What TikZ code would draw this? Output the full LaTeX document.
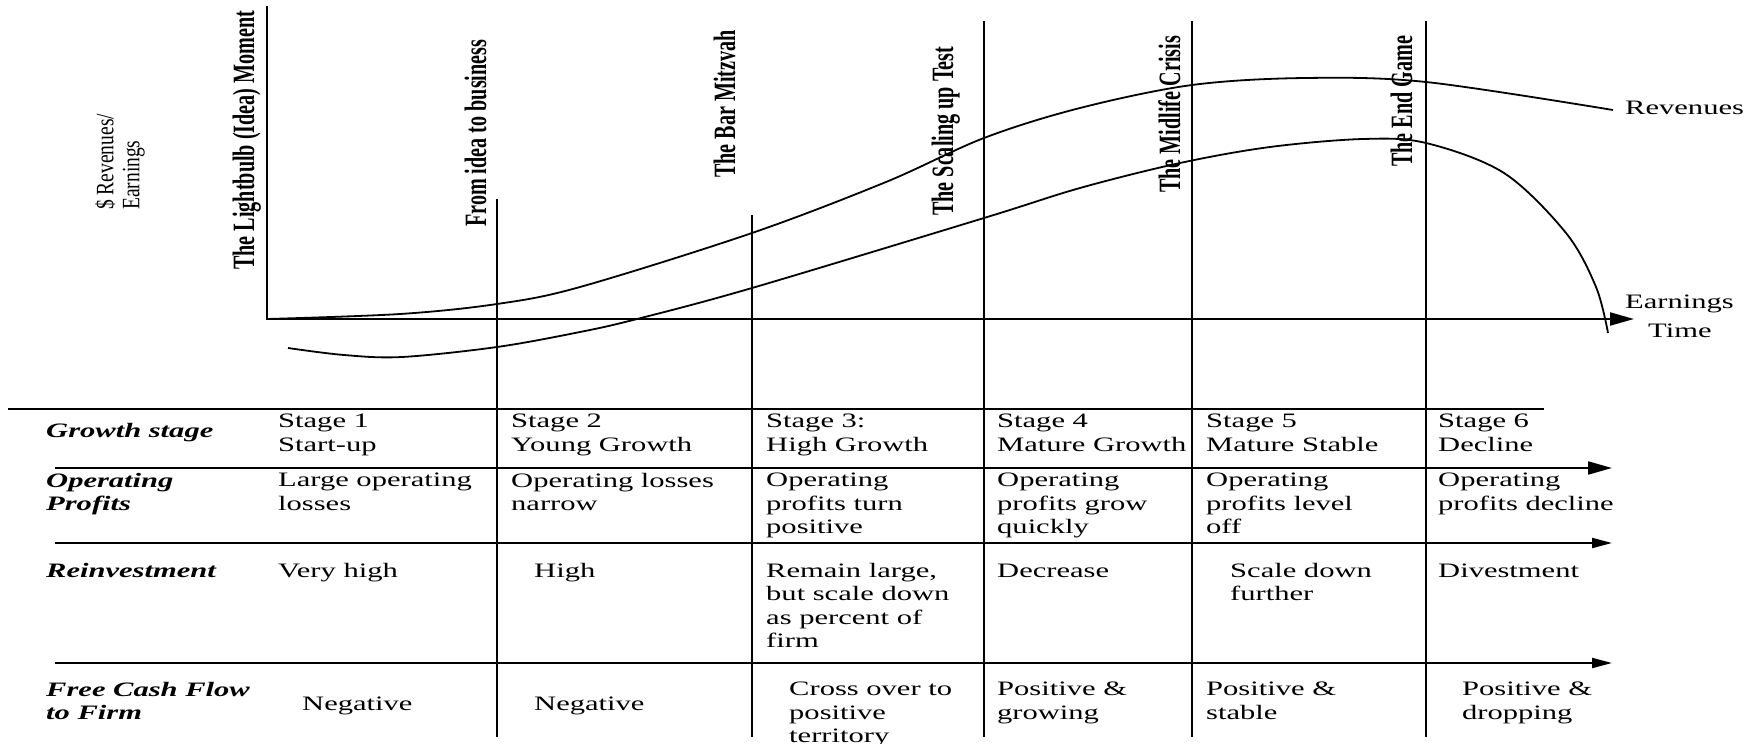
\documentclass[tikz,border=0pt]{standalone}
\usepackage{fontspec}
\setmainfont{Liberation Serif}
\newfontfamily\tabfamily[FakeStretch=1.49]{Liberation Serif}
\newfontfamily\mstfamily[FakeStretch=0.65]{Liberation Serif}
\newfontfamily\axfamily[FakeStretch=0.78]{Liberation Serif}
\usetikzlibrary{arrows.meta}

\begin{document}
\begin{tikzpicture}[x=1pt,y=-1pt,
  rule/.style={line width=2pt},
  bigarrow/.style={rule,-{Triangle[length=24pt,width=13pt]}},
  smallarrow/.style={rule,-{Triangle[length=20pt,width=10pt]}},
  curve/.style={line width=1.8pt},
  cell/.style={font=\tabfamily\fontsize{20.5}{23.3}\selectfont, anchor=north west, inner sep=0pt, align=left},
  cellbase/.style={font=\tabfamily\fontsize{20.5}{23.3}\selectfont, anchor=base west, inner sep=0pt},
  rowhead/.style={cell, font=\tabfamily\fontsize{20.5}{23.3}\selectfont\bfseries\itshape},
  rowheadbase/.style={cellbase, font=\tabfamily\fontsize{20.5}{23.3}\selectfont\bfseries\itshape},
  milestone/.style={font=\mstfamily\fontsize{31}{34}\selectfont\bfseries, rotate=90, anchor=base west, inner sep=0pt},
  axistitle/.style={font=\axfamily\fontsize{25}{26}\selectfont, rotate=90, anchor=north west, inner sep=0pt, align=left}
]
\useasboundingbox[fill=white] (0,0) rectangle (1756,744);

% ---------- chart axes ----------
\coordinate (ytop) at (267,6);
\coordinate (origin) at (267,319);
\coordinate (xend) at (1634,319);
\draw[bigarrow] (ytop) -- (origin) -- (xend);

% ---------- stage boundaries ----------
\coordinate (b1t) at (497,199);  \coordinate (b1b) at (497,737);
\coordinate (b2t) at (752,215);  \coordinate (b2b) at (752,737);
\coordinate (b3t) at (984,21);   \coordinate (b3b) at (984,737);
\coordinate (b4t) at (1192,21);  \coordinate (b4b) at (1192,737);
\coordinate (b5t) at (1426,21);  \coordinate (b5b) at (1426,737);
\foreach \b in {b1,b2,b3,b4,b5} \draw[rule] (\b t) -- (\b b);

% ---------- milestone labels ----------
\node[milestone] (m0) at (254,270) {The Lightbulb (Idea) Moment};
\node[milestone] (m1) at (486,227) {From idea to business};
\node[milestone] (m2) at (735,178) {The Bar Mitzvah};
\node[milestone] (m3) at (953,216) {The Scaling up Test};
\node[milestone] (m4) at (1180,193) {The Midlife Crisis};
\node[milestone] (m5) at (1412,167) {The End Game};

\node[axistitle] (ytitle) at (95,210) {\$ Revenues/\\Earnings};

% ---------- revenue and earnings curves ----------
\draw[curve] plot[smooth, tension=0.55] coordinates {
  (267,319) (400,314) (497,304) (580,287) (752,233) (886,182) (984,138)
  (1080,108) (1192,85) (1305,78) (1426,82) (1613,110)};
\draw[curve] plot[smooth, tension=0.55] coordinates {
  (288,348) (344,355) (402,357) (497,347) (580,332) (637,319) (752,288)
  (984,218) (1080,188) (1180,163) (1270,147) (1363,139) (1426,143)
  (1504,173) (1566,233) (1596,287) (1608,333)};

\node[cellbase] (lrev) at (1625,114) {Revenues};
\node[cellbase] (learn) at (1625,308) {Earnings};
\node[cellbase] (ltime) at (1648,337) {Time};

% ---------- table rules ----------
\coordinate (h0l) at (8,409);   \coordinate (h0r) at (1544,409);
\coordinate (h1l) at (55,468);  \coordinate (h1r) at (1612,468);
\coordinate (h2l) at (55,543);  \coordinate (h2r) at (1612,543);
\coordinate (h3l) at (55,663);  \coordinate (h3r) at (1612,663);
\draw[rule] (h0l) -- (h0r);
\draw[bigarrow] (h1l) -- (h1r);
\draw[smallarrow] (h2l) -- (h2r);
\draw[smallarrow] (h3l) -- (h3r);

% ---------- row headers ----------
\node[rowheadbase] (hg) at (46,437) {Growth stage};
\node[rowhead] (ho) at (46,473) {Operating\\Profits};
\node[rowheadbase] (hr) at (46,577) {Reinvestment};
\node[rowhead] (hf) at (46,682) {Free Cash Flow\\to Firm};

% ---------- growth stage ----------
\node[cell] (g1) at (278,414) {Stage 1\\Start-up};
\node[cell] (g2) at (511,414) {Stage 2\\Young Growth};
\node[cell] (g3) at (766,414) {Stage 3:\\High Growth};
\node[cell] (g4) at (997,414) {Stage 4\\Mature Growth};
\node[cell] (g5) at (1206,414) {Stage 5\\Mature Stable};
\node[cell] (g6) at (1438,414) {Stage 6\\Decline};

% ---------- operating profits ----------
\node[cell] (o1) at (278,473) {Large operating\\losses};
\node[cell] (o2) at (511,473) {Operating losses\\narrow};
\node[cell] (o3) at (766,473) {Operating\\profits turn\\positive};
\node[cell] (o4) at (997,473) {Operating\\profits grow\\quickly};
\node[cell] (o5) at (1206,473) {Operating\\profits level\\off};
\node[cell] (o6) at (1438,473) {Operating\\profits decline};

% ---------- reinvestment ----------
\node[cellbase] (r1) at (278,577) {Very high};
\node[cellbase] (r2) at (534,577) {High};
\node[cell] (r3) at (766,563) {Remain large,\\but scale down\\as percent of\\firm};
\node[cellbase] (r4) at (997,577) {Decrease};
\node[cell] (r5) at (1230,563) {Scale down\\further};
\node[cellbase] (r6) at (1438,577) {Divestment};

% ---------- free cash flow ----------
\node[cellbase] (f1) at (302,710) {Negative};
\node[cellbase] (f2) at (534,710) {Negative};
\node[cell] (f3) at (789,682) {Cross over to\\positive\\territory};
\node[cell] (f4) at (997,682) {Positive \&\\growing};
\node[cell] (f5) at (1206,682) {Positive \&\\stable};
\node[cell] (f6) at (1462,682) {Positive \&\\dropping};
\end{tikzpicture}
\end{document}
